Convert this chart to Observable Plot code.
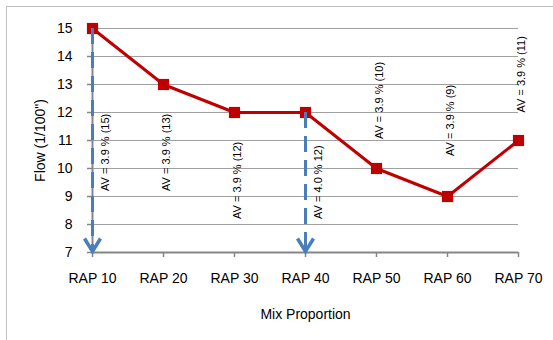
<!DOCTYPE html>
<html>
<head>
<meta charset="utf-8">
<script src="https://cdn.jsdelivr.net/npm/d3@7"></script>
<script src="https://cdn.jsdelivr.net/npm/@observablehq/plot@0.6"></script>
<style>
  html, body { margin: 0; padding: 0; background: #fff; overflow: hidden; width: 553px; height: 340px; }
  #border { position: absolute; left: 6px; top: 6px; width: 620px; height: 420px; border: 1px solid #c0c0c0; }
  #chart { position: absolute; left: 0; top: 0; }
</style>
</head>
<body>
<div id="border"></div>
<div id="chart"></div>
<script>
// ---- data ----
const categories = ["RAP 10", "RAP 20", "RAP 30", "RAP 40", "RAP 50", "RAP 60", "RAP 70"];
const flow = [15, 13, 12, 12, 10, 9, 11];
const annotationLabels = ["AV = 3.9 % (15)", "AV = 3.9 % (13)", "AV = 3.9 % (12)", "AV = 4.0 % 12)", "AV = 3.9 % (10)", "AV = 3.9 % (9)", "AV = 3.9 % (11)"];
const annotationBase = [9.2, 9.2, 8.2, 8.2, 11.05, 10.45, 12.0];
const arrowCategories = ["RAP 10", "RAP 40"];
const yTicks = [7, 8, 9, 10, 11, 12, 13, 14, 15];

const rows = categories.map((c, i) => ({category: c, flow: flow[i]}));
const notes = categories.map((c, i) => ({category: c, label: annotationLabels[i], base: annotationBase[i], arrow: arrowCategories.includes(c)}));
const arrows = rows.filter(d => arrowCategories.includes(d.category));
const yMin = yTicks[0];

const red = "#c00000";
const blue = "#4a7ebb";
const axisGray = "#868686";
const gridGray = "#a0a0a0";

const chevron = {
  draw(context) {
    context.moveTo(-8, -14);
    context.lineTo(0, -1);
    context.lineTo(8, -14);
  }
};

const chart = Plot.plot({
  width: 553,
  height: 340,
  marginLeft: 92,
  marginRight: 35,
  marginTop: 28,
  marginBottom: 88,
  style: {fontFamily: "'Liberation Sans', Arial, sans-serif", fontSize: "14px", background: "transparent", color: "#000", overflow: "visible"},
  x: {type: "point", domain: categories, padding: 0},
  y: {domain: [yTicks[0], yTicks[yTicks.length - 1]]},
  marks: [
    Plot.gridY(yTicks.slice(1), {stroke: gridGray, strokeOpacity: 1}),
    Plot.axisY({ticks: yTicks, tickSize: 5, tickPadding: 15, stroke: axisGray, fill: "#000", strokeWidth: 1.5,
      label: 'Flow (1/100")', labelAnchor: "center", labelArrow: "none", labelOffset: 57}),
    Plot.axisX({tickSize: 5, tickPadding: 16, stroke: axisGray, fill: "#000", strokeWidth: 1.5,
      label: "Mix Proportion", labelAnchor: "center", labelOffset: 66}),
    Plot.ruleY([yMin], {stroke: axisGray, strokeWidth: 2}),
    Plot.ruleX([categories[0]], {stroke: axisGray, strokeWidth: 2}),
    Plot.line(rows, {x: "category", y: "flow", stroke: red, strokeWidth: 3}),
    Plot.dot(rows, {x: "category", y: "flow", symbol: "square", r: 6.3, fill: red}),
    Plot.ruleX(arrows, {x: "category", y1: "flow", y2: yMin, stroke: blue, strokeWidth: 3, strokeDasharray: "16,8"}),
    Plot.dot(arrows, {x: "category", y: () => yMin, symbol: chevron, fill: "none", stroke: blue, strokeWidth: 3.5}),
    Plot.text(notes.filter(d => d.arrow), {x: "category", y: "base", text: "label", rotate: -90, textAnchor: "start", lineAnchor: "middle", fontSize: 11, dx: 12.5}),
    Plot.text(notes.filter(d => !d.arrow), {x: "category", y: "base", text: "label", rotate: -90, textAnchor: "start", lineAnchor: "middle", fontSize: 11, dx: 2.5})
  ]
});
document.getElementById("chart").appendChild(chart);
</script>
</body>
</html>
